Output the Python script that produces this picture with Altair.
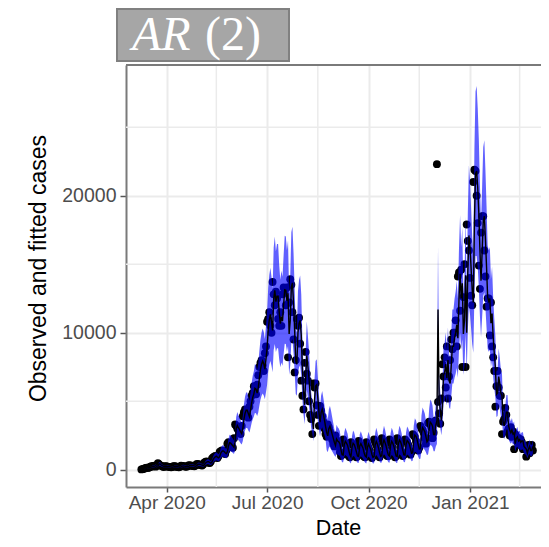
import altair as alt
import pandas as pd

# ---------------- data ----------------
start_date = "2020-03-09"

observed = [
    20, 40, 60, 90, 120, 150, 130,
    160, 200, 250, 230, 280, 300, 220,
    300, 480, 400, 320, 280, 260, 200,
    230, 260, 240, 220, 210, 190, 170,
    200, 260, 250, 230, 220, 200, 180,
    220, 290, 280, 260, 240, 230, 210,
    260, 330, 320, 300, 290, 270, 250,
    300, 400, 420, 380, 360, 330, 310,
    380, 520, 560, 600, 570, 500, 480,
    600, 800, 900, 950, 1000, 880, 850,
    1000, 1300, 1350, 1400, 1300, 1200, 1150,
    1400, 1900, 2000, 1900, 1800, 1700, 1600,
    2300, 3300, 3200, 3000, 2900, 2700, 2600,
    3200, 3900, 4200, 4400, 4300, 4000, 3800,
    4600, 5000, 5400, 5600, 6100, 5800, 5500,
    6200, 6900, 7500, 7800, 8000, 7600, 7200,
    8500, 9000, 10800, 11000, 11500, 10500, 10000,
    13700, 12800, 12000, 13000, 12500, 11000, 10500,
    11500, 10500, 12800, 13300, 13000, 12000, 13300,
    8200, 12200, 13900, 13500, 11500, 9500, 7100,
    8000, 11000, 10500, 11100, 9200, 6500, 5400,
    4400, 7800, 8600, 7000, 6500, 5000, 4000,
    3700, 2600, 6300, 6000, 6300, 4700, 4000,
    3200, 4650, 4300, 3900, 3500, 3000, 2600,
    2400, 3300, 3100, 2800, 2500, 2200, 1900,
    1700, 2500, 1900, 2100, 1800, 1300, 1000,
    1100, 2200, 2000, 1900, 1700, 1300, 1000,
    900, 2000, 1900, 1800, 1500, 1200, 900,
    1000, 2100, 1800, 1700, 1500, 1100, 950,
    900, 2000, 1800, 1600, 1400, 1000, 850,
    1000, 2200, 2000, 1800, 1500, 1100, 900,
    1100, 2300, 2100, 1900, 1600, 1200, 1000,
    1000, 2200, 2000, 1900, 1600, 1200, 900,
    1000, 2300, 2100, 2000, 1700, 1300, 1000,
    1100, 2200, 2100, 2000, 1800, 1400, 1100,
    1300, 2600, 2500, 2400, 2100, 1700, 1400,
    1600, 3200, 3000, 2900, 2700, 2300, 1900,
    2300, 3400, 3500, 3300, 3100, 2300, 2700,
    3500, 3600, 22300, 4950, 4100, 3350, 5200,
    7700, 6800, 8200, 6000, 9000, 5200, 6800,
    8000, 9500, 8800, 10000, 10000, 10900, 9000,
    14100, 14400, 11600, 14600, 7500, 12600, 15000,
    7500, 17900, 16700, 16000, 14000, 12700, 12000,
    21000, 21900, 21800, 20000, 18000, 14900, 13200,
    17300, 18500, 18500, 16000, 14100, 11900, 12500,
    12500, 9800, 12200, 9000, 8200, 7200, 4600,
    6100, 7200, 6000, 5400, 5400, 2600, 3500,
    3700, 4500, 4000, 2800, 3000, 2500, 3100,
    2400, 2800, 1500, 2600, 2400, 2000, 2300,
    1800, 2200, 2000, 1500, 1600, 1500, 950,
    1700, 1800, 1200, 1500, 1800, 1400,
]

fitted = [
    30, 25, 35, 55, 80, 110, 140,
    140, 150, 185, 235, 235, 265, 295,
    245, 275, 420, 425, 345, 295, 265,
    220, 220, 250, 245, 225, 215, 195,
    175, 190, 240, 250, 235, 225, 205,
    185, 205, 265, 280, 265, 245, 235,
    215, 245, 310, 320, 305, 295, 275,
    255, 285, 365, 405, 395, 365, 340,
    315, 355, 475, 545, 585, 580, 525,
    485, 560, 735, 865, 935, 985, 920,
    860, 950, 1200, 1335, 1385, 1335, 1235,
    1165, 1315, 1735, 1965, 1935, 1835, 1735,
    1635, 2065, 2965, 3235, 3065, 2935, 2765,
    2635, 3000, 3665, 4100, 4335, 4335, 4100,
    3870, 4335, 4870, 5270, 5535, 5935, 5870,
    5600, 5970, 6670, 7300, 7700, 7935, 7735,
    7335, 8070, 8835, 10200, 10935, 11335, 10835,
    10170, 12470, 13100, 12270, 12670, 12670, 11500,
    10670, 11170, 10835, 12035, 13135, 13100, 12335,
    12870, 9900, 10870, 13335, 13635, 12170, 10170,
    7900, 7700, 10000, 10670, 10900, 9835, 7400,
    5770, 4735, 6670, 8335, 7535, 6670, 5500,
    4335, 3800, 2970, 5070, 6100, 6200, 5235,
    4235, 3470, 4170, 4420, 4035, 3635, 3170,
    2735, 2470, 3000, 3170, 2900, 2600, 2300,
    2000, 1770, 2235, 2100, 2035, 1900, 1470,
    1100, 1070, 1835, 2070, 1935, 1770, 1435,
    1100, 935, 1635, 1935, 1835, 1600, 1300,
    1000, 970, 1735, 1900, 1735, 1570, 1235,
    1000, 920, 1635, 1870, 1670, 1470, 1135,
    900, 950, 1800, 2070, 1870, 1600, 1235,
    970, 1035, 1900, 2170, 1970, 1700, 1335,
    1070, 1000, 1800, 2070, 1935, 1700, 1335,
    1000, 970, 1870, 2170, 2035, 1800, 1435,
    1100, 1070, 1835, 2135, 2035, 1870, 1535,
    1200, 1235, 2170, 2535, 2435, 2200, 1835,
    1500, 1535, 2670, 3070, 2935, 2770, 2435,
    2035, 2170, 3035, 3470, 3370, 3170, 2570,
    2570, 3235, 3570, 11700, 5200, 4400, 3600,
    4600, 6900, 7100, 7700, 6700, 8000, 6500,
    6300, 7600, 9000, 9000, 9600, 10000, 10600,
    9600, 12400, 14300, 12500, 13600, 9900, 10900,
    14200, 10000, 14400, 17100, 16200, 14700, 13100,
    12200, 18000, 21600, 21800, 20600, 18700, 16000,
    13800, 15900, 18100, 18500, 16800, 14800, 12600,
    12300, 12500, 10700, 11400, 9700, 8500, 7500,
    5500, 5600, 6800, 6300, 5600, 5400, 3500,
    3200, 3600, 4200, 4200, 3200, 2900, 2700,
    2900, 2600, 2700, 1900, 2300, 2400, 2100,
    2200, 2000, 2100, 2100, 1700, 1600, 1500,
    1200, 1500, 1700, 1400, 1400, 1700,
]

# half width of the blue prediction band around the fitted line
band_half = [
    10, 10, 10, 20, 25, 35, 40, 40, 45, 55, 70, 70, 80, 90, 75, 80, 125, 130, 105, 90, 80,
    65, 65, 75, 75, 70, 65, 60, 55, 60, 70, 75, 70, 70, 60, 55, 60, 80, 85, 80, 75, 70,
    65, 75, 95, 95, 90, 90, 85, 75, 85, 110, 120, 120, 110, 100, 95, 105, 140, 165, 175, 175, 160,
    145, 170, 220, 260, 280, 295, 275, 260, 285, 360, 400, 415, 400, 370, 350, 395, 520, 590, 580, 550, 520,
    490, 620, 890, 970, 920, 880, 830, 790, 900, 1100, 1230, 1300, 1300, 1230, 1160, 1300, 1460, 1580, 1660, 1780, 1760,
    1680, 1790, 2000, 2190, 2310, 2380, 2320, 2200, 2420, 2650, 3060, 3280, 3400, 3250, 3050, 3740, 3930, 3680, 3800, 3800, 3450,
    3200, 3350, 3250, 3610, 3940, 3930, 3700, 3860, 2970, 3260, 4000, 4090, 3650, 3050, 2370, 2310, 3000, 3200, 3270, 2950, 2220,
    1730, 1420, 2000, 2500, 2260, 2000, 1650, 1300, 1140, 890, 1520, 1830, 1860, 1570, 1270, 1040, 1250, 1330, 1210, 1090, 950,
    1300, 1200, 1400, 1500, 1400, 1250, 1100, 950, 850, 1050, 1000, 980, 900, 700, 550, 520, 880, 1000, 930, 850, 700,
    550, 480, 800, 930, 880, 770, 640, 500, 480, 830, 910, 830, 750, 600, 500, 470, 790, 900, 800, 700, 560,
    450, 480, 860, 990, 900, 770, 600, 480, 500, 910, 1040, 940, 820, 640, 520, 490, 860, 990, 930, 820, 640,
    490, 480, 900, 1040, 980, 860, 690, 530, 520, 880, 1020, 980, 900, 740, 580, 590, 1040, 1220, 1170, 1060, 880,
    720, 740, 1280, 1470, 1400, 1330, 1170, 980, 1040, 1450, 1660, 1610, 1520, 1230, 1230, 1550, 1700, 4600, 1560, 1320, 1080,
    1380, 2070, 2130, 2310, 2010, 2400, 1950, 1890, 2280, 2700, 2700, 2880, 3000, 3180, 2880, 3720, 4290, 3750, 4080, 2970, 3270,
    4260, 3000, 4320, 5130, 4860, 4410, 3930, 3660, 5400, 6000, 6200, 5800, 5400, 4800, 4140, 4770, 5430, 5550, 5040, 4440, 3780,
    3690, 3750, 3210, 3420, 2910, 2550, 2250, 1650, 1680, 2040, 1890, 1680, 1620, 1050, 960, 1080, 1260, 1260, 960, 870, 810,
    870, 780, 810, 570, 690, 720, 630, 660, 600, 630, 630, 510, 480, 450, 360, 450, 510, 420, 420, 510,
]

x_tick_dates = [(2020, 4, 1), (2020, 7, 1), (2020, 10, 1), (2021, 1, 1)]
x_minor_dates = ["2020-05-16", "2020-08-16", "2020-11-16", "2021-02-15"]
y_ticks = [0, 10000, 20000]
y_minor = [5000, 15000, 25000]
panel_title_italic = "AR"
panel_title_rest = "(2)"

n = min(len(observed), len(fitted), len(band_half))
dates = pd.date_range(start_date, periods=n, freq="D").strftime("%Y-%m-%d")
df = pd.DataFrame({
    "date": list(dates),
    "cases": observed[:n],
    "fitted": fitted[:n],
    "lower": [f - h for f, h in zip(fitted[:n], band_half[:n])],
    "upper": [f + h for f, h in zip(fitted[:n], band_half[:n])],
})

# ---------------- layout / style ----------------
W, H = 415, 422
BORDER = "#7a7a7a"
GRID = "#ebebeb"

xscale = alt.Scale(
    type="utc",
    domain=[alt.DateTime(year=2020, month=2, date=24, hours=2, utc=True),
            alt.DateTime(year=2021, month=3, date=6, hours=9, utc=True)],
    nice=False,
)
yscale = alt.Scale(domain=[-1263, 29540], nice=False, zero=False)

x_axis = alt.Axis(
    values=[alt.DateTime(year=y, month=m, date=d, utc=True) for y, m, d in x_tick_dates],
    labelExpr="utcFormat(datum.value, '%b %Y')", title="Date",
    grid=True, gridColor=GRID, gridWidth=2,
    domainColor=BORDER, domainWidth=2,
    tickColor="#555555", tickWidth=1.5, tickSize=5,
    labelFont="Liberation Sans", labelFontSize=19, labelColor="#4d4d4d", labelPadding=1,
    titleFont="Liberation Sans", titleFontSize=21.5, titleFontWeight="normal", titleColor="black",
    titleX=212, titleY=47, titleBaseline="alphabetic",
)
y_axis = alt.Axis(
    values=y_ticks, format="d", title="Observed and fitted cases",
    grid=True, gridColor=GRID, gridWidth=2,
    domainColor=BORDER, domainWidth=2,
    tickColor="#555555", tickWidth=1.5, tickSize=6,
    labelFont="Liberation Sans", labelFontSize=19.5, labelColor="#4d4d4d", labelPadding=4,
    titleFont="Liberation Sans", titleFontSize=23, titleFontWeight="normal", titleColor="black",
    titleX=-88, titleY=203, titleBaseline="middle",
)

X = lambda f: alt.X(f, scale=xscale, axis=x_axis)
Y = lambda f: alt.Y(f, scale=yscale, axis=y_axis)

minor_x = alt.Chart(pd.DataFrame({"date": x_minor_dates})).mark_rule(
    color=GRID, strokeWidth=1.5).encode(x=X("date:T"))
minor_y = alt.Chart(pd.DataFrame({"cases": y_minor})).mark_rule(
    color=GRID, strokeWidth=1.5).encode(y=Y("cases:Q"))

base = alt.Chart(df)
points = base.mark_circle(size=62, color="black", opacity=1).encode(x=X("date:T"), y=Y("cases:Q"))
ribbon = base.mark_area(color="#0000ff", opacity=0.62).encode(x=X("date:T"), y=Y("lower:Q"), y2="upper:Q")
line = base.mark_line(color="black", strokeWidth=1.4).encode(x=X("date:T"), y=Y("fitted:Q"))

deco = alt.Chart(pd.DataFrame({"k": [0]}))
top_border = deco.mark_rule(color=BORDER, strokeWidth=2).encode(
    x=alt.value(0), x2=alt.value(W), y=alt.value(0))
title_box = deco.mark_rect(fill="#a6a6a6", stroke="#808080", strokeWidth=2).encode(
    x=alt.value(-9), x2=alt.value(163), y=alt.value(-56), y2=alt.value(-4))
title_a = deco.mark_text(text=panel_title_italic, font="Liberation Serif", fontStyle="italic",
                         fontSize=48, color="white", align="left", baseline="alphabetic").encode(
    x=alt.value(6), y=alt.value(-15))
title_b = deco.mark_text(text=panel_title_rest, font="Liberation Serif",
                         fontSize=48, color="white", align="left", baseline="alphabetic").encode(
    x=alt.value(79), y=alt.value(-15))

chart = alt.layer(
    minor_x, minor_y, points, ribbon, line, top_border, title_box, title_a, title_b
).properties(
    width=W, height=H,
    autosize=alt.AutoSizeParams(type="none"),
    padding={"left": 118, "top": 57, "right": 0, "bottom": 52},
).configure_view(stroke=None)

chart.save("out.html", embed_options={"renderer": "svg", "actions": False})
